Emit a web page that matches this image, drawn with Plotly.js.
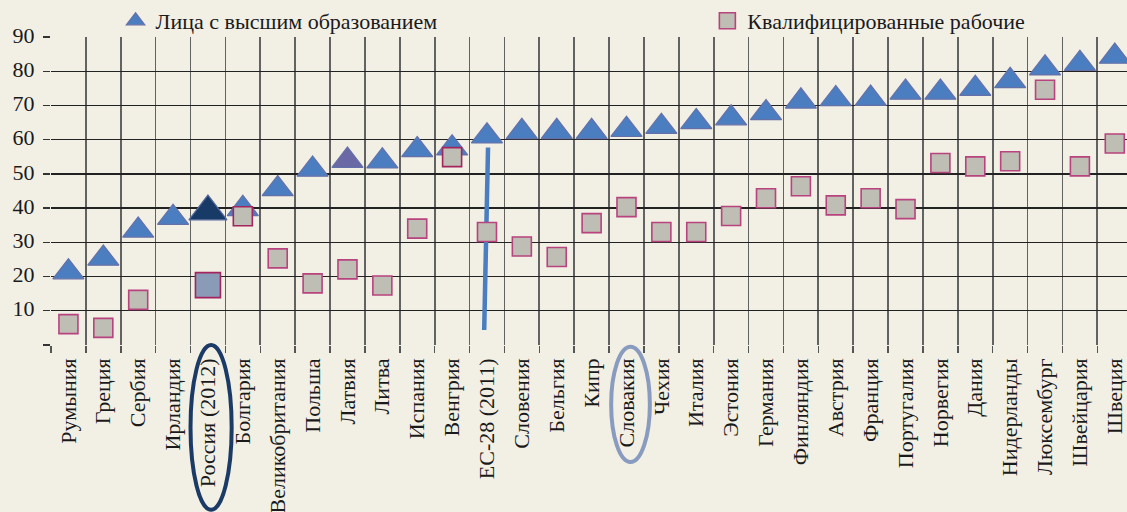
<!DOCTYPE html>
<html>
<head>
<meta charset="utf-8">
<script src="https://cdn.plot.ly/plotly-3.0.1.min.js"></script>
<style>
  html, body { margin: 0; padding: 0; background: #F2EFE5; overflow: hidden; }
  #chart { width: 1127px; height: 512px; }
</style>
</head>
<body>
<div id="chart"></div>
<script>
// ---- data ----
const countries = ["Румыния", "Греция", "Сербия", "Ирландия", "Россия (2012)", "Болгария",
  "Великобритания", "Польша", "Латвия", "Литва", "Испания", "Венгрия", "ЕС-28 (2011)",
  "Словения", "Бельгия", "Кипр", "Словакия", "Чехия", "Италия", "Эстония", "Германия",
  "Финляндия", "Австрия", "Франция", "Португалия", "Норвегия", "Дания", "Нидерланды",
  "Люксембург", "Швейцария", "Швеция"];

const higherEducation = [21.3, 25.3, 33.5, 37.2, 39.0, 39.8, 45.6, 51.3, 53.9, 53.7,
  57.0, 57.5, 61.0, 62.3, 62.3, 62.3, 62.9, 63.8, 65.2, 66.3, 67.8, 71.2, 71.9, 72.0,
  73.8, 73.8, 74.9, 77.2, 80.9, 82.2, 84.3];

const skilledWorkers = [6.1, 5.0, 13.2, null, 17.5, 37.6, 25.3, 18.0, 22.1, 17.4,
  34.0, 54.9, 33.0, 28.8, 25.7, 35.6, 40.3, 33.0, 33.0, 37.7, 42.9, 46.4, 40.8, 42.9,
  39.7, 53.2, 52.2, 53.7, 74.6, 52.2, 58.9];

const yTickValues = [0, 10, 20, 30, 40, 50, 60, 70, 80, 90];
const yTickLabels = ["", "10", "20", "30", "40", "50", "60", "70", "80", "90"];

const seriesNames = ["Лица с высшим образованием", "Квалифицированные рабочие"];

// highlighted categories
const russia = "Россия (2012)";
const latvia = "Латвия";
const slovakia = "Словакия";
const eu = "ЕС-28 (2011)";
// pointer line for EU average (x offset in category units, y in data units)
const euLineY = [4.4, 57.7];
const euLineDx = [-0.08, 0.03];

// ---- styling ----
const BG = "#F2EFE5";
const FONT = "Liberation Serif, Times New Roman, serif";

const triColors = countries.map(c => c === russia ? "#173A66" : (c === latvia ? "#6A69A6" : "#4A7EC0"));
const triSizes = countries.map(c => c === russia ? 33 : 27);
const triLine = countries.map(c => c === russia ? "#56679A" : "#6670A8");

const sqColors = countries.map(c => c === russia ? "#8A9BB8" : "#BFBEB5");
const sqSizes = countries.map(c => c === russia ? 25 : 19);
const sqLine = countries.map(c => (c === russia || c === "Болгария" || c === "Венгрия") ? "#A4245E" : "#B8437E");

const idx = name => countries.indexOf(name);

const traces = [
  {
    type: "scatter", mode: "markers", name: seriesNames[0],
    x: countries, y: higherEducation, cliponaxis: false, legend: "legend",
    marker: { symbol: "triangle-up", size: triSizes, color: triColors, opacity: 1,
              line: { color: triLine, width: 1.2 } },
    hoverinfo: "x+y"
  },
  {
    type: "scatter", mode: "markers", name: seriesNames[1],
    x: countries, y: skilledWorkers, cliponaxis: false, legend: "legend2",
    marker: { symbol: "square", size: sqSizes, color: sqColors, opacity: 1,
              line: { color: sqLine, width: 1.6 } },
    hoverinfo: "x+y"
  }
];

const layout = {
  width: 1127, height: 512, autosize: false,
  paper_bgcolor: BG, plot_bgcolor: BG,
  margin: { l: 51, r: 0, t: 36, b: 167 },
  font: { family: FONT, size: 21, color: "#1a1a1a" },
  showlegend: true,
  legend: {
    x: 0.06, y: 1.052, xanchor: "left", yanchor: "middle",
    bgcolor: "rgba(0,0,0,0)", font: { family: FONT, size: 22, color: "#1a1a1a" },
    itemclick: false
  },
  legend2: {
    x: 0.61, y: 1.052, xanchor: "left", yanchor: "middle",
    bgcolor: "rgba(0,0,0,0)", font: { family: FONT, size: 22, color: "#1a1a1a" },
    itemclick: false
  },
  xaxis: {
    type: "category", categoryorder: "array", categoryarray: countries,
    range: [-0.5, 30.35],
    tickson: "boundaries", ticks: "outside", ticklen: 7, tickwidth: 1.5, tickcolor: "#555",
    showgrid: true, gridcolor: "#626262", gridwidth: 1.7,
    tickangle: -90, ticklabelstandoff: 8,
    tickfont: { family: FONT, size: 22, color: "#1a1a1a" },
    showline: false, zeroline: false, fixedrange: true
  },
  yaxis: {
    range: [0, 90], tickvals: yTickValues, ticktext: yTickLabels,
    ticks: "outside", ticklen: 7, tickwidth: 1.3, tickcolor: "#333",
    showgrid: true, gridcolor: "#222", gridwidth: 1.3,
    ticklabelstandoff: 4, ticklabelshift: -2,
    tickfont: { family: FONT, size: 22, color: "#1a1a1a" },
    zeroline: false, showline: false, fixedrange: true
  },
  shapes: [
    {
      type: "line", layer: "between", xref: "x", yref: "y",
      x0: idx(eu) + euLineDx[0], x1: idx(eu) + euLineDx[1], y0: euLineY[0], y1: euLineY[1],
      line: { color: "#4A7EC0", width: 4.5 }
    },
    {
      type: "circle", xref: "x", yref: "paper",
      x0: idx(russia) - 0.5, x1: idx(russia) + 0.68, y0: -0.535, y1: 0.0,
      line: { color: "#1B3A66", width: 4 }
    },
    {
      type: "circle", xref: "x", yref: "paper",
      x0: idx(slovakia) - 0.44, x1: idx(slovakia) + 0.67, y0: -0.38, y1: -0.006,
      line: { color: "#8A9BC0", width: 4 }
    }
  ]
};

Plotly.newPlot("chart", traces, layout, { displayModeBar: false, staticPlot: true });
</script>
</body>
</html>
